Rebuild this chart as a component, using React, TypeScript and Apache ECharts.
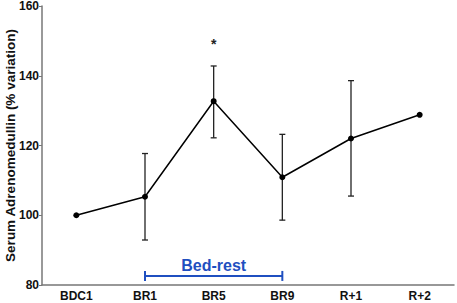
import React, { useEffect, useRef } from "react";
import * as echarts from "echarts";

const categories = ["BDC1", "BR1", "BR5", "BR9", "R+1", "R+2"];
const means = [100, 105.3, 132.7, 110.9, 122, 128.8];
const errLow = [null, 92.9, 122.2, 98.6, 105.5, null];
const errHigh = [null, 117.7, 142.8, 123.2, 138.6, null];
const yTicks = { min: 80, max: 160, interval: 20 };
const bracket = { from: "BR1", to: "BR9", y: 82.6, label: "Bed-rest" };
const star = { cat: "BR5", y: 149, text: "*" };

export default function App() {
  const ref = useRef<HTMLDivElement>(null);
  useEffect(() => {
    const chart = echarts.init(ref.current!, null, { renderer: "svg" });
    const font = "Liberation Sans, Arial, sans-serif";
    const errData = categories
      .map((c, i) => [i, errLow[i], errHigh[i]])
      .filter((d) => d[1] != null);
    chart.setOption({
      animation: false,
      grid: { left: 42, right: 3, top: 6, bottom: 18, containLabel: false, outerBoundsMode: "none" },
      xAxis: {
        type: "category",
        data: categories,
        boundaryGap: true,
        axisLine: { lineStyle: { color: "#777", width: 1.5 } },
        axisTick: { alignWithLabel: true, length: 3, lineStyle: { color: "#777" } },
        axisLabel: { color: "#111", fontWeight: "bold", fontSize: 12, fontFamily: font, margin: 5 },
      },
      yAxis: {
        type: "value",
        min: yTicks.min,
        max: yTicks.max,
        interval: yTicks.interval,
        name: "Serum Adrenomedullin (% variation)",
        nameLocation: "middle",
        nameGap: 25,
        nameMoveOverlap: false,
        nameTextStyle: { color: "#111", fontWeight: "bold", fontSize: 13.5, fontFamily: font },
        splitLine: { show: false },
        axisLine: { show: true, lineStyle: { color: "#777", width: 1.5 } },
        axisTick: { show: true, length: 3, lineStyle: { color: "#777" } },
        axisLabel: { color: "#111", fontWeight: "bold", fontSize: 12, fontFamily: font, margin: 3 },
      },
      series: [
        {
          type: "custom",
          data: errData,
          z: 1,
          renderItem: (params: any, api: any) => {
            const x = api.value(0);
            const lo = api.coord([x, api.value(1)]);
            const hi = api.coord([x, api.value(2)]);
            const s = { stroke: "#222", lineWidth: 1.3 };
            return {
              type: "group",
              children: [
                { type: "line", shape: { x1: lo[0], y1: lo[1], x2: hi[0], y2: hi[1] }, style: s },
                { type: "line", shape: { x1: lo[0] - 3, y1: lo[1], x2: lo[0] + 3, y2: lo[1] }, style: s },
                { type: "line", shape: { x1: hi[0] - 3, y1: hi[1], x2: hi[0] + 3, y2: hi[1] }, style: s },
              ],
            };
          },
        },
        {
          type: "line",
          data: means,
          z: 2,
          symbol: "circle",
          symbolSize: 6,
          itemStyle: { color: "#000" },
          lineStyle: { color: "#000", width: 1.5 },
        },
        {
          type: "custom",
          data: [[categories.indexOf(bracket.from), categories.indexOf(bracket.to), bracket.y]],
          renderItem: (params: any, api: any) => {
            const a = api.coord([api.value(0), api.value(2)]);
            const b = api.coord([api.value(1), api.value(2)]);
            const s = { stroke: "#1f4fc0", lineWidth: 2 };
            return {
              type: "group",
              children: [
                { type: "line", shape: { x1: a[0], y1: a[1], x2: b[0], y2: b[1] }, style: s },
                { type: "line", shape: { x1: a[0], y1: a[1] - 5, x2: a[0], y2: a[1] + 5 }, style: s },
                { type: "line", shape: { x1: b[0], y1: b[1] - 5, x2: b[0], y2: b[1] + 5 }, style: s },
                {
                  type: "text",
                  style: {
                    text: bracket.label,
                    x: (a[0] + b[0]) / 2,
                    y: a[1] - 2,
                    align: "center",
                    verticalAlign: "bottom",
                    fill: "#1f4fc0",
                    font: `bold 16px ${font}`,
                  },
                },
              ],
            };
          },
        },
        {
          type: "custom",
          data: [[categories.indexOf(star.cat), star.y]],
          renderItem: (params: any, api: any) => {
            const p = api.coord([api.value(0), api.value(1)]);
            return {
              type: "text",
              style: {
                text: star.text,
                x: p[0],
                y: p[1],
                align: "center",
                verticalAlign: "middle",
                fill: "#222",
                font: `bold 14px ${font}`,
              },
            };
          },
        },
      ],
    });
    return () => chart.dispose();
  }, []);
  return <div ref={ref} style={{ width: 457, height: 303, position: "absolute", left: 0, top: 0 }} />;
}
